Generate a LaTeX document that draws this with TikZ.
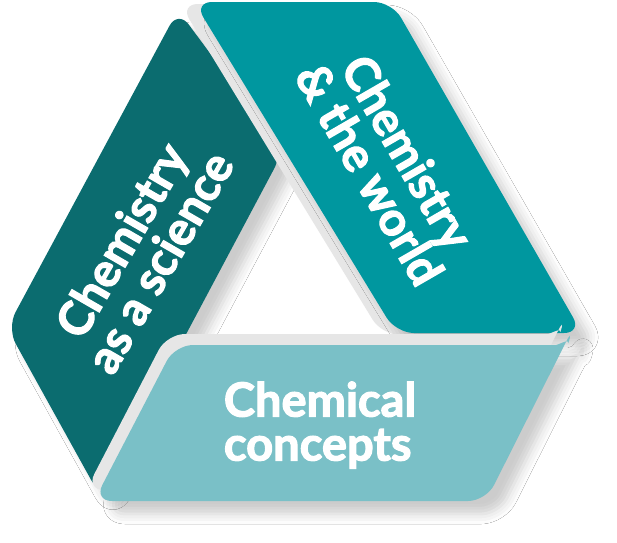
\documentclass[tikz,border=0pt]{standalone}
\usepackage{fontspec}
\newfontfamily\bandfont{Lato}[BoldFeatures={FakeBold=2.5}]
\usepackage{tikz}
\usetikzlibrary{shadows.blur}
\definecolor{sciteal}{HTML}{0B6C6F}
\definecolor{worldteal}{HTML}{00979F}
\definecolor{conceptteal}{HTML}{7AC0C7}
\definecolor{foldgrey}{HTML}{E6E6E6}
\tikzstyle{band} = [rounded corners=18pt, blur shadow={shadow xshift=13pt, shadow yshift=-13pt, shadow blur radius=10pt, shadow opacity=20}]
\tikzstyle{fold} = [fill=foldgrey, rounded corners=18pt]
\tikzstyle{bandtext} = [text=white, font=\bandfont\bfseries\fontsize{47}{44}\selectfont, align=center, inner sep=0pt]

\begin{document}
\begin{tikzpicture}[x=1pt, y=-1pt]
\useasboundingbox (0,0) rectangle (617,542);
\fill[white] (0,0) rectangle (617,542);

% left band
\fill[band, fill=sciteal] (7,328) -- (178,10) -- (283,152) -- (100,496) -- cycle;

% right band with its fold
\fill[fold] (180,4) -- (378,4) -- (568,335) -- (382,335) -- cycle;
\fill[band, fill=worldteal] (194,2) -- (392,2) -- (582,333) -- (396,333) -- cycle;

% bottom band with its fold
\fill[fold] (167,334) -- (530,334) .. controls (550,334) and (562,327) .. (566,315) -- (478,490) -- (86,490) -- cycle;
\fill[band, fill=conceptteal] (175,345) -- (538,345) .. controls (558,345) and (570,338) .. (574,326) -- (486,501) -- (94,501) -- cycle;

\node[bandtext, rotate=60] (science) at (140,251) {Chemistry\\as a science};
\node[bandtext, rotate=-60] (world) at (389,163) {Chemistry\\\& the world};
\node[bandtext, align=left] (concepts) at (320,425) {Chemical\\concepts};
\end{tikzpicture}
\end{document}
